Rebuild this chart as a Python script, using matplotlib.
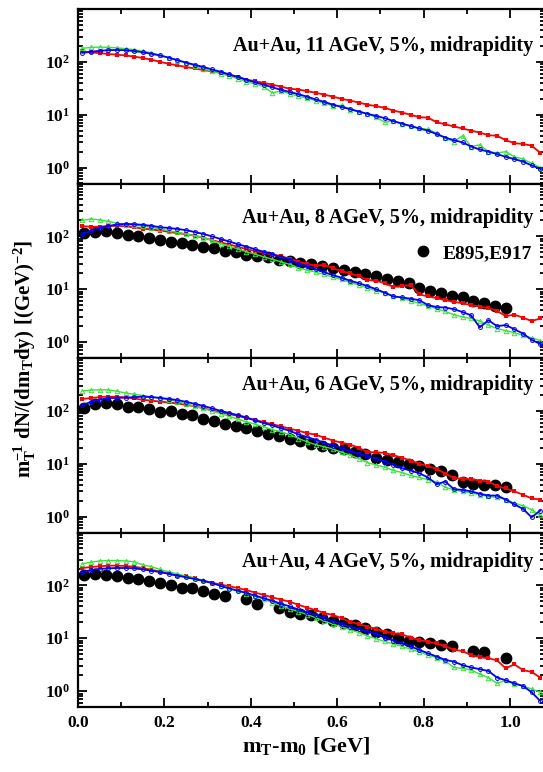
import numpy as np
import matplotlib
matplotlib.use("Agg")
import matplotlib.pyplot as plt
from matplotlib.ticker import FixedLocator, LogLocator, MultipleLocator, NullFormatter

plt.rcParams['font.family'] = ['Liberation Serif', 'DejaVu Serif']
plt.rcParams['font.weight'] = 'bold'
plt.rcParams['mathtext.fontset'] = 'custom'
plt.rcParams['mathtext.rm'] = 'Liberation Serif:bold'
plt.rcParams['mathtext.it'] = 'Liberation Serif:bold'
plt.rcParams['mathtext.bf'] = 'Liberation Serif:bold'

# model bins (m_T - m_0, GeV)
x_model = [0.01, 0.03, 0.05, 0.07, 0.09, 0.11, 0.13, 0.15, 0.17, 0.19,
           0.21, 0.23, 0.25, 0.27, 0.29, 0.31, 0.33, 0.35, 0.37, 0.39,
           0.41, 0.43, 0.45, 0.47, 0.49, 0.51, 0.53, 0.55, 0.57, 0.59,
           0.61, 0.63, 0.65, 0.67, 0.69, 0.71, 0.73, 0.75, 0.77, 0.79,
           0.81, 0.83, 0.85, 0.87, 0.89, 0.91, 0.93, 0.95, 0.97, 0.99,
           1.01, 1.03, 1.05, 1.07]

# experimental points E895,E917
x_data = [0.015, 0.040, 0.065, 0.090, 0.115, 0.140, 0.165, 0.190, 0.215, 0.240,
          0.265, 0.290, 0.315, 0.340, 0.365, 0.390, 0.415, 0.440, 0.465, 0.490,
          0.515, 0.540, 0.565, 0.590, 0.615, 0.640, 0.665, 0.690, 0.715, 0.740,
          0.765, 0.790, 0.815, 0.840, 0.865, 0.890, 0.915, 0.940, 0.965, 0.990]

labels = ["Au+Au, 11 AGeV, 5%, midrapidity",
          "Au+Au, 8 AGeV, 5%, midrapidity",
          "Au+Au, 6 AGeV, 5%, midrapidity",
          "Au+Au, 4 AGeV, 5%, midrapidity"]

# 11 AGeV
red_11 = [158, 152, 146, 141, 137, 132, 126, 118, 110, 100,
          92, 86, 80, 75, 70, 66, 62, 56, 51, 46,
          43, 40, 37, 34, 31, 30, 28, 26, 24, 22,
          20, 18.5, 17, 15.5, 14.5, 13.5, 12, 11, 10, 9.0,
          8.8, 7.2, 6.6, 6.0, 5.5, 5.0, 4.6, 4.1, 4.0, 3.3,
          2.9, 2.8, 2.6, 1.9]
blue_11 = [148, 155, 162, 166, 168, 166, 160, 152, 142, 132,
           120, 108, 97, 88, 80, 72, 65, 58, 52, 46,
           41, 37, 33, 29.5, 27, 24.5, 22, 19.5, 17.5, 15.5,
           14, 12.8, 11.5, 10.4, 9.5, 8.6, 7.6, 6.8, 6.1, 5.5,
           5.0, 4.3, 3.7, 3.3, 3.0, 2.5, 2.2, 2.0, 1.8, 1.6,
           1.45, 1.3, 1.1, 0.95]
green_11 = [180, 188, 190, 188, 184, 178, 170, 160, 148, 134,
            120, 106, 95, 85, 74, 66, 60, 54, 48, 42,
            38, 34, 26, 28, 25, 22.5, 20.5, 18.5, 16.5, 14.8,
            15, 12.5, 11.3, 10.3, 9.0, 7.2, 7.6, 6.6, 6.2, 5.5,
            5.3, 4.5, 3.6, 3.1, 4.0, 2.5, 2.7, 2.0, 1.9, 2.0,
            1.6, 1.45, 1.2, 1.0]

# 8 AGeV
red_8 = [157, 151, 153, 157, 158, 155, 148, 140, 135, 129,
         122, 115, 110, 103, 94, 85, 77, 70, 64, 57,
         53, 49, 45, 42, 38, 33, 30, 28, 29, 25,
         22, 20, 17.5, 15, 14.5, 13, 11, 11.6, 12, 8.0,
         7.3, 6.8, 6.2, 5.8, 5.4, 5.0, 4.7, 4.4, 3.9, 3.1,
         3.3, 2.9, 2.5, 2.8]
blue_8 = [110, 128, 142, 157, 168, 172, 170, 165, 158, 149,
          144, 138, 131, 121, 111, 100, 89, 80, 71, 64,
          57, 51, 46, 41, 36.5, 30, 27, 24, 21, 18.5,
          16.5, 14.5, 13, 11.5, 10, 8.6, 7.3, 7.0, 6.6, 6.2,
          5.0, 4.6, 4.5, 4.2, 3.7, 3.2, 1.9, 2.6, 2.0, 2.1,
          1.75, 1.45, 1.1, 0.92]
green_8 = [200, 213, 205, 192, 178, 166, 161, 156, 147, 138,
           128, 119, 112, 103, 94, 84, 73, 65, 58, 51,
           46, 41, 37, 33, 29.5, 25.5, 23, 21, 19, 17,
           15.3, 13.5, 12, 10.5, 9.4, 8.5, 7.5, 6.8, 6.0, 5.4,
           4.8, 4.3, 3.8, 3.3, 3.0, 2.8, 2.5, 2.1, 1.8, 1.65,
           1.5, 1.35, 1.2, 1.07]
data_8 = [115, 123, 124, 118, 104, 100, 93, 85, 79, 76,
          68, 63, 60, 53, 50, 45, 43, 40, 36, 34,
          32, 29.5, 27.5, 25.5, 23, 21.5, 19.5, 17.5, 15.5, 14,
          13, 10.5, 9.3, 8.4, 7.3, 7.0, 5.9, 5.5, 4.9, 4.4]

# 6 AGeV
red_6 = [168, 175, 182, 186, 184, 180, 172, 162, 156, 150,
         144, 138, 130, 122, 112, 102, 94, 87, 80, 73,
         67, 61, 56, 51, 46, 42, 38, 35.5, 31, 27.5,
         25, 23, 20, 16.6, 16.5, 16, 14.5, 13, 11.5, 10,
         9.0, 8.0, 6.5, 5.4, 5.2, 5.1, 4.8, 4.6, 3.8, 3.4,
         3.0, 2.6, 2.2, 2.1]
blue_6 = [128, 148, 162, 174, 176, 178, 182, 186, 182, 176,
          168, 160, 148, 136, 124, 112, 100, 91, 83, 75,
          66, 59, 53, 47, 42, 36, 32, 28.5, 25, 22,
          19.5, 17.5, 15.5, 14, 12.5, 11, 9.5, 8.2, 7.4, 6.6,
          5.5, 4.1, 4.6, 3.3, 3.2, 3.0, 2.7, 2.5, 2.5, 2.1,
          1.7, 1.4, 0.97, 1.3]
green_6 = [238, 248, 250, 250, 235, 218, 206, 195, 184, 172,
           162, 150, 135, 122, 111, 100, 89, 79, 70, 62,
           56, 50, 44, 40, 36, 30, 26, 23, 21, 19,
           16.5, 14.5, 12.5, 10.5, 9.5, 8.6, 7.5, 6.8, 6.0, 5.5,
           5.0, 4.5, 3.6, 3.2, 3.0, 2.8, 2.6, 2.4, 2.3, 2.1,
           1.8, 1.6, 1.35, 1.05]
data_6 = [115, 135, 140, 135, 116, 119, 109, 97, 100, 87,
          82, 71, 63, 57, 51, 47.5, 41, 36.6, 33, 30,
          26.7, 23.8, 21.5, 20, 18.6, 17, 15.5, 12.6, 12, 10.9,
          10, 9.1, 7.85, 7.3, 6.1, 4.6, 4.2, 4.0, 4.0, 3.65]

# 4 AGeV
red_4 = [213, 222, 230, 236, 236, 233, 225, 212, 197, 182,
         168, 152, 150, 135, 122, 112, 104, 96, 89, 81,
         73, 66, 59, 54, 49, 43, 38, 34, 30, 27.5,
         24, 20.5, 18.5, 16.5, 15, 13.4, 12.5, 11.8, 10.3, 9.2,
         8.6, 8.0, 7.0, 6.1, 5.7, 4.8, 4.4, 4.2, 3.8, 2.7,
         3.2, 2.5, 2.3, 1.8]
blue_4 = [178, 195, 205, 210, 213, 213, 210, 200, 190, 178,
          165, 153, 142, 132, 122, 111, 98, 87, 79, 72,
          64, 57, 51, 45, 40, 35, 31, 28, 24, 21,
          18.5, 16.5, 15, 13.4, 12, 10.3, 9.0, 8.0, 7.0, 6.0,
          5.2, 4.5, 3.9, 3.6, 3.1, 2.8, 2.6, 2.4, 1.8, 1.6,
          1.4, 1.25, 0.95, 0.65]
green_4 = [255, 275, 290, 295, 295, 290, 280, 245, 225, 200,
           180, 165, 150, 136, 124, 112, 98, 88, 80, 70,
           62, 55, 47, 41, 36, 32, 28, 24.5, 21, 18.5,
           16.5, 14.5, 12.8, 11, 9.8, 8.7, 7.8, 7.0, 6.2, 5.5,
           4.8, 4.3, 3.7, 2.8, 2.7, 2.5, 2.1, 1.8, 1.4, 1.6,
           1.35, 1.25, 1.1, 0.95]
data_4 = [155, 166, 158, 150, 138, 133, 120, 113, 100, 89,
          89, 78, 70, 62, np.nan, 55, 45, np.nan, 38, 31.6,
          29, 27, 24, 21, 19, 17.8, 15.4, 13.4, 11.9, 10.3,
          8.9, 8.4, 8.1, 7.3, 7.0, np.nan, 5.8, 5.5, np.nan, 4.3]

panels = [(red_11, blue_11, green_11, None),
          (red_8, blue_8, green_8, data_8),
          (red_6, blue_6, green_6, data_6),
          (red_4, blue_4, green_4, data_4)]
label_y = [0.79, 0.80, 0.845, 0.83]

fig = plt.figure(figsize=(5.43, 7.72), dpi=100)
left, right = 78 / 543, 544.6 / 543
top, bottom = 1 - 9 / 772, 1 - 707 / 772
h = (top - bottom) / 4

green_c = '#33e633'
for i, (red, blue, green, data) in enumerate(panels):
    ax = fig.add_axes([left, top - (i + 1) * h, right - left, h])
    if data is not None:
        ax.plot(x_data, data, 'o', color='black', ms=7.5, ls='none',
                label='E895,E917', zorder=2)
    ax.plot(x_model, red, '-s', color='red', lw=1.3, ms=2.6, mew=0, zorder=3)
    ax.plot(x_model, green, '-^', color=green_c, lw=1.0, ms=3.2, mfc='none', mew=0.7, zorder=4)
    ax.plot(x_model, blue, '-o', color='blue', lw=1.3, ms=2.8, mfc='none', mew=0.7, zorder=5)

    ax.set_yscale('log')
    ax.set_xlim(0, 1.08)
    ax.set_ylim(0.5, 1000)
    ax.yaxis.set_major_locator(FixedLocator([1, 10, 100]))
    ax.yaxis.set_minor_locator(LogLocator(base=10, subs=np.arange(2, 10)))
    ax.yaxis.set_minor_formatter(NullFormatter())
    ax.set_yticklabels([r'$10^{0}$', r'$10^{1}$', r'$10^{2}$'])
    ax.xaxis.set_major_locator(MultipleLocator(0.2))
    ax.xaxis.set_minor_locator(MultipleLocator(0.1))
    ax.tick_params(which='both', direction='in', top=True, right=True, width=1.3)
    ax.tick_params(which='major', length=6.5, labelsize=12.5, pad=6)
    ax.tick_params(which='minor', length=3.5)
    for s in ax.spines.values():
        s.set_linewidth(1.6)
    if i < 3:
        ax.tick_params(labelbottom=False)
    else:
        ax.set_xticklabels(['%.1f' % v for v in ax.get_xticks()])

    ax.text(0.975, label_y[i], labels[i], transform=ax.transAxes,
            ha='right', va='center', fontsize=14.5, fontweight='bold')
    if data is not None and i == 1:
        ax.legend(loc='center right', bbox_to_anchor=(0.972, 0.6), frameon=False,
                  fontsize=14, handletextpad=0.5, handlelength=1.0,
                  borderpad=0, borderaxespad=0)

fig.text(0.046, 0.535, r'$\mathregular{m_T^{-1}\ dN/(dm_T dy)\ [(GeV)^{-2}]}$',
         rotation=90, ha='center', va='center', fontsize=15)
fig.text(0.565, 0.02, r'$\mathregular{m_T\text{-}m_0\ [GeV]}$',
         ha='center', va='bottom', fontsize=16)

fig.savefig('out.png', dpi=100)
